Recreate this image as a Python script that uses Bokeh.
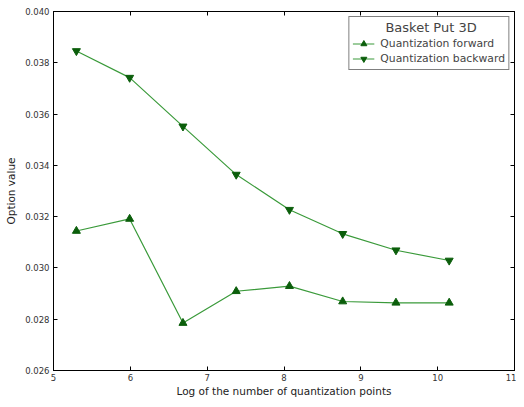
from bokeh.plotting import figure
from bokeh.models import FixedTicker, PrintfTickFormatter, LinearAxis, Range1d, Legend, LegendItem, CustomJSTickFormatter
from bokeh.embed import file_html
from bokeh.resources import INLINE

x_log_points = [5.298, 5.991, 6.685, 7.378, 8.071, 8.764, 9.457, 10.150]
forward = [0.03144, 0.03191, 0.02785, 0.02909, 0.02929, 0.02869, 0.02864, 0.02864]
backward = [0.03846, 0.03742, 0.03552, 0.03364, 0.03227, 0.03133, 0.03069, 0.03029]
x_ticks = [5, 6, 7, 8, 9, 10, 11]
y_ticks = [0.026, 0.028, 0.030, 0.032, 0.034, 0.036, 0.038, 0.040]

FONT = "DejaVu Sans"
LINE_C = "#3a9a3a"
MARK_C = "#0b5e0b"

p = figure(width=516, height=399, output_backend="svg", toolbar_location=None,
           x_range=Range1d(5, 11), y_range=Range1d(0.026, 0.040),
           min_border_left=53, min_border_right=2, min_border_top=11, min_border_bottom=24)
p.xgrid.visible = False
p.ygrid.visible = False
p.outline_line_color = "black"
p.outline_line_width = 1
p.background_fill_color = "white"
p.border_fill_color = "white"

l1 = p.line(x_log_points, forward, line_color=LINE_C, line_width=1.2)
m1 = p.scatter(x_log_points, forward, marker="triangle", size=8, fill_color=MARK_C, line_color=MARK_C)
l2 = p.line(x_log_points, backward, line_color=LINE_C, line_width=1.2)
m2 = p.scatter(x_log_points, backward, marker="inverted_triangle", size=8, fill_color=MARK_C, line_color=MARK_C)

for ax in (p.xaxis[0], p.yaxis[0]):
    ax.major_tick_in = 4
    ax.major_tick_out = 0
    ax.minor_tick_in = 0
    ax.minor_tick_out = 0
    ax.axis_line_color = "black"
    ax.major_label_text_font = FONT
    ax.major_label_text_font_size = "8.5px"
    ax.major_label_text_color = "#333333"
    ax.axis_label_text_font = FONT
    ax.axis_label_text_font_size = "10.5px"
    ax.axis_label_text_font_style = "normal"
    ax.axis_label_text_color = "#222222"

p.xaxis[0].ticker = FixedTicker(ticks=x_ticks)
p.yaxis[0].ticker = FixedTicker(ticks=y_ticks)
p.yaxis[0].formatter = PrintfTickFormatter(format="%.3f")
p.xaxis[0].axis_label = "Log of the number of quantization points"
p.yaxis[0].axis_label = "Option value"
p.xaxis[0].axis_label_standoff = 1
p.yaxis[0].axis_label_standoff = 5
p.xaxis[0].major_label_standoff = 3
p.yaxis[0].major_label_standoff = 4

blank = CustomJSTickFormatter(code="return ''")
top = LinearAxis(ticker=FixedTicker(ticks=x_ticks), formatter=blank,
                 major_tick_in=4, major_tick_out=0, minor_tick_in=0, minor_tick_out=0,
                 major_label_standoff=0)
right = LinearAxis(ticker=FixedTicker(ticks=y_ticks), formatter=blank,
                   major_tick_in=4, major_tick_out=0, minor_tick_in=0, minor_tick_out=0,
                   major_label_standoff=0)
p.add_layout(top, "above")
p.add_layout(right, "right")

legend = Legend(items=[LegendItem(label="Quantization forward", renderers=[l1, m1]),
                       LegendItem(label="Quantization backward", renderers=[l2, m2])],
                location="top_right", title="\u00a0" * 8 + "Basket Put 3D",
                title_text_font=FONT, title_text_font_size="13px", title_text_font_style="normal",
                label_text_font=FONT, label_text_font_size="10.8px",
                border_line_color="black", border_line_width=1,
                padding=3, spacing=0, margin=5, glyph_width=22, glyph_height=15,
                label_height=15, label_standoff=6, title_standoff=1)
p.add_layout(legend)

open("out.html", "w").write(file_html(p, INLINE))
